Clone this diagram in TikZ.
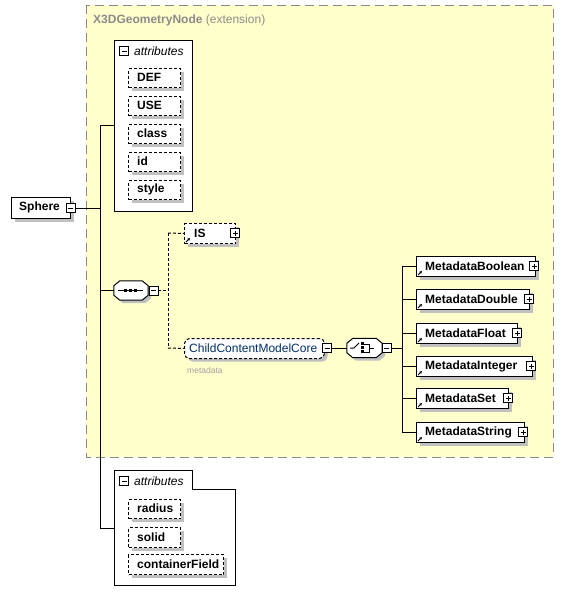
\documentclass[tikz,border=0pt]{standalone}
\usepackage{fontspec}
\setmainfont{Liberation Sans}
\usetikzlibrary{shadows,arrows.meta}
\definecolor{ybg}{HTML}{FFFFCC}
\definecolor{ybd}{HTML}{8A8A8A}
\definecolor{shd}{HTML}{C0C0C0}
\definecolor{ccmc}{HTML}{00306A}
\definecolor{titlegray}{HTML}{8C8C8C}
\definecolor{notegray}{HTML}{A0A0A0}
\tikzset{
 shad/.style={drop shadow={shadow xshift=3pt,shadow yshift=-3pt,fill=shd,opacity=1}},
 elbox/.style={draw,fill=white,inner sep=0pt,anchor=north west,minimum height=20pt,line width=1pt,shad},
 attbox/.style={elbox,dash pattern=on 3pt off 2pt,minimum width=52pt,minimum height=19pt},
 lbl/.style={font=\bfseries\fontsize{12}{14}\selectfont,inner sep=0pt,anchor=west},
 pm/.style={draw,fill=white,minimum size=9pt,inner sep=0pt,line width=0.8pt},
 pmminus/.style={pm,path picture={\draw[line width=0.8pt] ([xshift=2pt]path picture bounding box.west) -- ([xshift=-2pt]path picture bounding box.east);}},
 pmplus/.style={pm,path picture={\draw[line width=0.8pt] ([xshift=2pt]path picture bounding box.west) -- ([xshift=-2pt]path picture bounding box.east) ([yshift=-2pt]path picture bounding box.north) -- ([yshift=2pt]path picture bounding box.south);}},
 octo/.style={draw,fill=white,line width=1pt,shad},
 conn/.style={line width=1pt},
 dconn/.style={line width=1pt,dash pattern=on 3pt off 2pt},
 refarr/.style={line width=1pt,-{Stealth[length=3pt,width=3pt]}},
 cont/.style={draw,fill=white,line width=1pt,inner sep=0pt,anchor=north west},
}
\begin{document}
\begin{tikzpicture}[x=1pt,y=-1pt]
\useasboundingbox (0,0) rectangle (563,605);
% extension box
\draw[fill=ybg,draw=ybd,line width=1pt,dash pattern=on 9pt off 5pt] (86,5) rectangle (553,457);
\node[anchor=west,inner sep=0pt,text=titlegray,font=\fontsize{12}{14}\selectfont] (title) at (93,20) {\textbf{X3DGeometryNode} (extension)};

% Sphere
\node[elbox,minimum width=59pt,minimum height=21pt] (sphere) at (11,197) {};
\node[lbl] (spheret) at (19,207.5) {Sphere};
\node[pmminus] (spherem) at (70.5,208) {};
\coordinate (tj) at (100,208);
\coordinate (t1) at (100,125);
\coordinate (t2) at (100,290.5);
\coordinate (t3) at (100,528);
\draw[conn] (spherem.east) -- (tj);
\draw[conn] (t1) -- (t3);

% upper attributes
\node[cont,minimum width=78pt,minimum height=171pt] (attr1) at (114,40) {};
\draw[conn] (t1) -- (t1 -| attr1.west);
\node[pmminus] (attr1m) at (124,51) {};
\node[anchor=west,inner sep=0pt,font=\itshape\fontsize{12}{14}\selectfont] (attr1t) at (134,51) {attributes};
\node[attbox] (def) at (128,68) {};
\node[lbl] at (137,77.5) {DEF};
\node[attbox] (use) at (128,96) {};
\node[lbl] at (137,105.5) {USE};
\node[attbox] (class) at (128,124) {};
\node[lbl] at (137,133.5) {class};
\node[attbox] (id) at (128,152) {};
\node[lbl] at (137,161.5) {id};
\node[attbox] (style) at (128,180) {};
\node[lbl] at (137,189.5) {style};

% sequence
\node[minimum width=34pt,minimum height=19pt,inner sep=0pt] (seq) at (131,290.5) {};
\draw[octo] ([xshift=6pt]seq.north west) -- ([xshift=-6pt]seq.north east) -- ([yshift=-5pt]seq.north east) -- ([yshift=5pt]seq.south east) -- ([xshift=-6pt]seq.south east) -- ([xshift=6pt]seq.south west) -- ([yshift=5pt]seq.south west) -- ([yshift=-5pt]seq.north west) -- cycle;
\draw[line width=1pt] (118,290.5) -- (143,290.5);
\foreach \xx in {125,130,135} \fill (\xx-1.5,289) rectangle (\xx+1.5,292);
\draw[conn] (t2) -- (seq.west);
\node[pmminus] (seqm) at (153.5,290.5) {};
\coordinate (sj) at (168,290.5);
\coordinate (sjt) at (168,233);
\coordinate (sjb) at (168,348);
\draw[dconn] (seqm.east) -- (sj);
\draw[dconn] (sjt) -- (sjb);

% IS
\node[elbox,dash pattern=on 3pt off 2pt,minimum width=51pt] (is) at (184,223) {};
\node[lbl] (ist) at (194,233) {IS};
\node[pmplus] (ism) at (235,233) {};
\draw[refarr] ([shift={(2pt,2pt)}]is.south west) -- ++(4pt,4pt);
\draw[dconn] (sjt) -- (is.west);

% ChildContentModelCore
\node[elbox,rounded corners=5pt,dash pattern=on 3pt off 2pt,minimum width=140pt] (ccmc) at (184,338) {};
\node[anchor=west,inner sep=0pt,text=ccmc,font=\fontsize{12}{14}\selectfont] (ccmct) at (189,348) {ChildContentModelCore};
\node[pmminus] (ccmcm) at (327,348) {};
\node[anchor=west,inner sep=0pt,text=notegray,font=\fontsize{8.5}{10}\selectfont] (note) at (187,370) {metadata};
\draw[dconn] (sjb) -- (ccmc.west);

% choice
\node[minimum width=35pt,minimum height=19pt,inner sep=0pt] (choice) at (364.5,348) {};
\draw[octo] ([xshift=6pt]choice.north west) -- ([xshift=-6pt]choice.north east) -- ([yshift=-5pt]choice.north east) -- ([yshift=5pt]choice.south east) -- ([xshift=-6pt]choice.south east) -- ([xshift=6pt]choice.south west) -- ([yshift=5pt]choice.south west) -- ([yshift=-5pt]choice.north west) -- cycle;
\draw[conn] (ccmcm.east) -- (choice.west);
\draw[line width=1pt] (350,348) -- (354,348) -- (359,343);
\foreach \yy in {343.5,347.5,351.5} \fill (361,\yy-1.5) rectangle (364,\yy+1.5);
\draw[line width=1pt] (364,344) -- (369,344) -- (369,352) -- (364,352) (369,348) -- (374,348);
\node[pmminus] (choicem) at (386.5,348) {};
\coordinate (mj) at (402,348);
\coordinate (mtop) at (402,266);
\coordinate (mbot) at (402,432);
\draw[conn] (choicem.east) -- (mj);
\draw[conn] (mtop) -- (mbot);

% Metadata elements
\node[elbox,minimum width=119pt] (mbool) at (416,256) {};
\node[lbl] at (425,266) {MetadataBoolean};
\node[pmplus] at (534,266) {};
\node[elbox,minimum width=113pt] (mdouble) at (416,289) {};
\node[lbl] at (425,299) {MetadataDouble};
\node[pmplus] at (529,299) {};
\node[elbox,minimum width=101pt] (mfloat) at (416,323) {};
\node[lbl] at (425,333) {MetadataFloat};
\node[pmplus] at (517,333) {};
\node[elbox,minimum width=116pt] (mint) at (416,356) {};
\node[lbl] at (425,366) {MetadataInteger};
\node[pmplus] at (531,366) {};
\node[elbox,minimum width=92pt] (mset) at (416,388) {};
\node[lbl] at (425,398) {MetadataSet};
\node[pmplus] at (508,398) {};
\node[elbox,minimum width=108pt] (mstring) at (416,422) {};
\node[lbl] at (425,432) {MetadataString};
\node[pmplus] at (523,432) {};
\foreach \nn in {mbool,mdouble,mfloat,mint,mset,mstring}{
  \draw[conn] (\nn.west -| mtop) -- (\nn.west);
  \draw[refarr] ([shift={(2pt,2pt)}]\nn.south west) -- ++(4pt,4pt);
}

% lower attributes
\draw[fill=white,line width=1pt] (114,470) -- (192,470) -- (192,489) -- (235,489) -- (235,585) -- (114,585) -- cycle;
\coordinate (attr2) at (114,528);
\draw[conn] (t3) -- (attr2);
\node[pmminus] (attr2m) at (124,481) {};
\node[anchor=west,inner sep=0pt,font=\itshape\fontsize{12}{14}\selectfont] (attr2t) at (134,481) {attributes};
\node[attbox] (radius) at (128,499) {};
\node[lbl] at (137,508.5) {radius};
\node[attbox,minimum height=20pt] (solid) at (128,527) {};
\node[lbl] at (137,537) {solid};
\node[attbox,minimum width=95pt,minimum height=20pt] (cfield) at (128,554) {};
\node[lbl] at (137,564) {containerField};
\end{tikzpicture}
\end{document}
